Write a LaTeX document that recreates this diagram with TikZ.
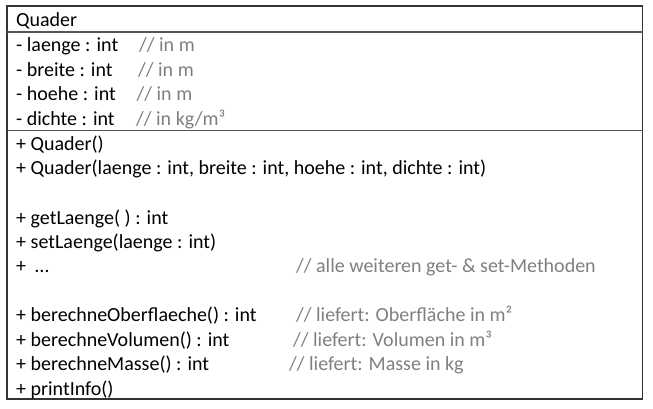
\documentclass[tikz,border=0pt]{standalone}
\usepackage{fontspec}
\setmainfont{Carlito}
\definecolor{frame}{HTML}{333333}
\definecolor{rule}{HTML}{555555}
\definecolor{remark}{HTML}{7F7F7F}
\begin{document}
\begin{tikzpicture}[x=1pt,y=-1pt,
  member/.style={anchor=base west, inner sep=0pt, font=\fontsize{20}{24}\selectfont, text=black},
  remark/.style={member, text=remark},
  box/.style={draw=frame, line width=1.4pt},
  sep/.style={draw=rule, line width=1.4pt}]
\useasboundingbox (0,0) rectangle (653,409);
% class box and compartment separators
\draw[box] (7,6) rectangle (642.5,399);
\draw[sep] (7,32) -- (642.5,32);
\draw[sep] (7,130.5) -- (642.5,130.5);
% class name
\node[member] (name) at (16,26.7) {Quader};
% attributes
\node[member] (a1) at (16,51.7) {- laenge : int};
\node[member] (a2) at (16,76.5) {- breite : int};
\node[member] (a3) at (16,101) {- hoehe : int};
\node[member] (a4) at (16,125.5) {- dichte : int};
\node[remark] (c1) at (139,51.7) {// in m};
\node[remark] (c2) at (138,76.5) {// in m};
\node[remark] (c3) at (136.5,101) {// in m};
\node[remark] (c4) at (136,125.5) {// in kg/m³};
% operations
\node[member] (m1) at (16,150.5) {+ Quader()};
\node[member] (m2) at (16,175) {+ Quader(laenge : int, breite : int, hoehe : int, dichte : int)};
\node[member] (m3) at (16,224) {+ getLaenge( ) : int};
\node[member] (m4) at (16,248.5) {+ setLaenge(laenge : int)};
\node[member] (m5) at (16,272.5) {+\ \ …};
\node[remark] (r5) at (296,272.5) {// alle weiteren get- \& set-Methoden};
\node[member] (m6) at (16,321.5) {+ berechneOberflaeche() : int};
\node[member] (m7) at (16,346) {+ berechneVolumen() : int};
\node[member] (m8) at (16,370.5) {+ berechneMasse() : int};
\node[member] (m9) at (16,395) {+ printInfo()};
\node[remark] (r6) at (296,321.5) {// liefert: Oberfläche in m²};
\node[remark] (r7) at (293,346) {// liefert: Volumen in m³};
\node[remark] (r8) at (289,370.5) {// liefert: Masse in kg};
\end{tikzpicture}
\end{document}
